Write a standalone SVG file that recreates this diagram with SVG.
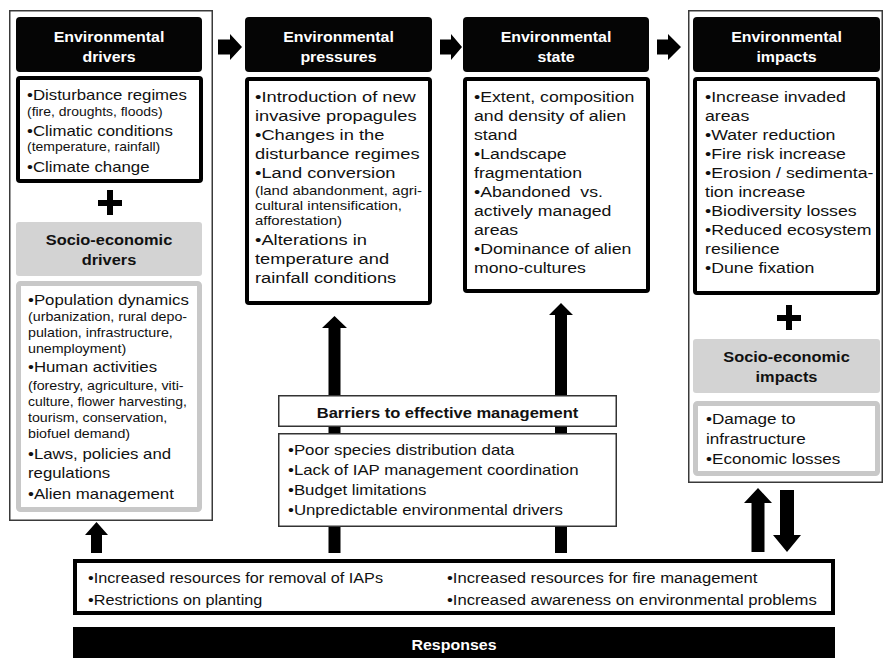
<svg xmlns="http://www.w3.org/2000/svg" width="884" height="658" viewBox="0 0 884 658">
<style>
text{font-family:"Liberation Sans",Arial,sans-serif;fill:#111}
.m{font-size:14px}
.s{font-size:12.5px}
.L{font-size:15.5px}
.Ls{font-size:13px}
.i{font-size:15px}
.r{font-size:14.5px}
.hb{font-size:14.5px;font-weight:bold;fill:#fff;text-anchor:middle}
.gb{font-size:14.5px;font-weight:bold;fill:#111;text-anchor:middle}
.outer{fill:#fff;stroke:#3a3a3a;stroke-width:1.5}
.hdr{fill:#050505}
.box{fill:#fff;stroke:#000;stroke-width:4}
.ghdr{fill:#d3d3d3}
.gbox{fill:#fff;stroke:#c8c8c8;stroke-width:5}
.thin{fill:#fff;stroke:#333;stroke-width:1.5}
.arr{fill:#000}
</style>
<rect width="884" height="658" fill="#fff"/>
<g id="connectors">
<polygon class="arr" points="218,39.5 230,39.5 230,34 242,47 230,60 230,54.5 218,54.5"/>
<polygon class="arr" points="440,39.5 451,39.5 451,34 462,47 451,60 451,54.5 440,54.5"/>
<polygon class="arr" points="657,39.5 668,39.5 668,34 681,47 668,60 668,54.5 657,54.5"/>
<polygon class="arr" points="91,553 91,535 85,535 96.5,522 108,535 102,535 102,553"/>
<polygon class="arr" points="328.5,553 328.5,328 322,328 334.5,316 347,328 340.5,328 340.5,553"/>
<polygon class="arr" points="555,553 555,315 549,315 561,303 573,315 567,315 567,553"/>
<polygon class="arr" points="751.5,552 751.5,503 744,503 758,488 772,503 764.5,503 764.5,552"/>
<polygon class="arr" points="780,490 794,490 794,535 801,535 787,552 773,535 780,535"/>
</g>
<g id="drivers">
<rect class="outer" x="9.75" y="10.75" width="202.5" height="509.5"/>
<rect class="hdr" x="16" y="17" width="186" height="55" rx="4"/>
<g transform="translate(109,0) scale(1.1,1)"><text class="hb" y="42">Environmental</text><text class="hb" y="62">drivers</text></g>
<rect class="box" x="18" y="78" width="183" height="103" rx="2"/>
<g transform="translate(27,0) scale(1.2,1)">
<text class="m" y="100">•Disturbance regimes</text>
<text class="s" y="116.5" transform="scale(0.93,1)">(fire, droughts, floods)</text>
<text class="m" y="136">•Climatic conditions</text>
<text class="s" y="151.5" transform="scale(0.93,1)">(temperature, rainfall)</text>
<text class="m" y="172">•Climate change</text>
</g>
<path class="arr" d="M107 190h6v10h9v6h-9v9h-6v-9h-9v-6h9z"/>
</g>
<g id="socio-drivers">
<rect class="ghdr" x="16" y="222" width="186" height="54" rx="3"/>
<g transform="translate(109,0) scale(1.13,1)"><text class="gb" y="245">Socio-economic</text><text class="gb" y="265">drivers</text></g>
<rect class="gbox" x="18.5" y="283.5" width="181" height="226" rx="2"/>
<g transform="translate(28,0) scale(1.2,1)">
<text class="m" y="305">•Population dynamics</text>
<text class="s" y="321.5" transform="scale(0.95,1)">(urbanization, rural depo-</text>
<text class="s" y="337.5" transform="scale(0.95,1)">pulation, infrastructure,</text>
<text class="s" y="353.5" transform="scale(0.95,1)">unemployment)</text>
<text class="m" y="372">•Human activities</text>
<text class="s" y="390.5" transform="scale(0.95,1)">(forestry, agriculture, viti-</text>
<text class="s" y="406.5" transform="scale(0.93,1)">culture, flower harvesting,</text>
<text class="s" y="422.5" transform="scale(0.95,1)">tourism, conservation,</text>
<text class="s" y="438.5" transform="scale(0.95,1)">biofuel demand)</text>
<text class="m" y="459">•Laws, policies and</text>
<text class="m" y="478">regulations</text>
<text class="m" y="499">•Alien management</text>
</g>
</g>
<g id="pressures">
<rect class="hdr" x="245" y="17" width="187" height="55" rx="4"/>
<g transform="translate(338.5,0) scale(1.1,1)"><text class="hb" y="42">Environmental</text><text class="hb" y="62">pressures</text></g>
<rect class="box" x="247" y="79" width="183" height="224" rx="2"/>
<g transform="translate(255,0) scale(1.18,1)">
<text class="L" y="102.5">•Introduction of new</text>
<text class="L" y="121.5">invasive propagules</text>
<text class="L" y="140.5">•Changes in the</text>
<text class="L" y="159.5">disturbance regimes</text>
<text class="L" y="178.5">•Land conversion</text>
<text class="Ls" y="195.5" transform="scale(0.975,1)">(land abandonment, agri-</text>
<text class="Ls" y="210.5" transform="scale(0.975,1)">cultural intensification,</text>
<text class="Ls" y="225.5" transform="scale(0.975,1)">afforestation)</text>
<text class="L" y="245.5">•Alterations in</text>
<text class="L" y="264.5">temperature and</text>
<text class="L" y="283.5">rainfall conditions</text>
</g>
</g>
<g id="state">
<rect class="hdr" x="463" y="17" width="186" height="55" rx="4"/>
<g transform="translate(556,0) scale(1.1,1)"><text class="hb" y="42">Environmental</text><text class="hb" y="62">state</text></g>
<rect class="box" x="465" y="79" width="183" height="212" rx="2"/>
<g transform="translate(474,0) scale(1.14,1)">
<text class="L" y="102.5">•Extent, composition</text>
<text class="L" y="121.5">and density of alien</text>
<text class="L" y="140.5">stand</text>
<text class="L" y="159.5">•Landscape</text>
<text class="L" y="178.5">fragmentation</text>
<text class="L" y="197.5" xml:space="preserve">•Abandoned  vs.</text>
<text class="L" y="216.5">actively managed</text>
<text class="L" y="235.5">areas</text>
<text class="L" y="254.5">•Dominance of alien</text>
<text class="L" y="273.5">mono-cultures</text>
</g>
</g>
<g id="impacts">
<rect class="outer" x="688.75" y="10.75" width="193.5" height="471.5"/>
<rect class="hdr" x="693" y="17" width="187" height="55" rx="4"/>
<g transform="translate(786.5,0) scale(1.1,1)"><text class="hb" y="42">Environmental</text><text class="hb" y="62">impacts</text></g>
<rect class="box" x="695" y="79" width="183" height="214" rx="2"/>
<g transform="translate(705,0) scale(1.18,1)">
<text class="i" y="102.5">•Increase invaded</text>
<text class="i" y="121.5">areas</text>
<text class="i" y="140.5">•Water reduction</text>
<text class="i" y="159.5">•Fire risk increase</text>
<text class="i" y="178.5">•Erosion / sedimenta-</text>
<text class="i" y="197.5">tion increase</text>
<text class="i" y="216.5">•Biodiversity losses</text>
<text class="i" y="235.5">•Reduced ecosystem</text>
<text class="i" y="254.5">resilience</text>
<text class="i" y="273.5">•Dune fixation</text>
</g>
<path class="arr" d="M786 305h6v10h9v6h-9v9h-6v-9h-9v-6h9z"/>
</g>
<g id="socio-impacts">
<rect class="ghdr" x="693" y="339" width="187" height="54" rx="3"/>
<g transform="translate(786.5,0) scale(1.13,1)"><text class="gb" y="362">Socio-economic</text><text class="gb" y="382">impacts</text></g>
<rect class="gbox" x="695.5" y="403.5" width="182" height="70" rx="2"/>
<g transform="translate(706,0) scale(1.18,1)">
<text class="r" y="424">•Damage to</text>
<text class="r" y="444">infrastructure</text>
<text class="r" y="464">•Economic losses</text>
</g>
</g>
<g id="barriers-header">
<rect class="thin" x="278.75" y="395.75" width="337.5" height="30.5"/>
<g transform="translate(447.5,0) scale(1.14,1)"><text class="gb" y="418">Barriers to effective management</text></g>
</g>
<g id="barriers">
<rect class="thin" x="278.75" y="433.75" width="337.5" height="92.5"/>
<g transform="translate(288,0) scale(1.16,1)">
<text class="r" y="455.5">•Poor species distribution data</text>
<text class="r" y="475.5">•Lack of IAP management coordination</text>
<text class="r" y="495.5">•Budget limitations</text>
<text class="r" y="515.5">•Unpredictable environmental drivers</text>
</g>
</g>
<g id="responses-actions">
<rect class="box" x="75" y="561" width="758" height="52"/>
<g transform="translate(88,0) scale(1.12,1)">
<text class="r" y="583">•Increased resources for removal of IAPs</text>
<text class="r" y="605">•Restrictions on planting</text>
</g>
<g transform="translate(447,0) scale(1.15,1)">
<text class="r" y="583">•Increased resources for fire management</text>
<text class="r" y="605">•Increased awareness on environmental problems</text>
</g>
</g>
<g id="responses">
<rect x="73" y="627" width="762" height="35" fill="#000"/>
<g transform="translate(454,0) scale(1.1,1)"><text class="hb" y="650">Responses</text></g>
</g>
</svg>
